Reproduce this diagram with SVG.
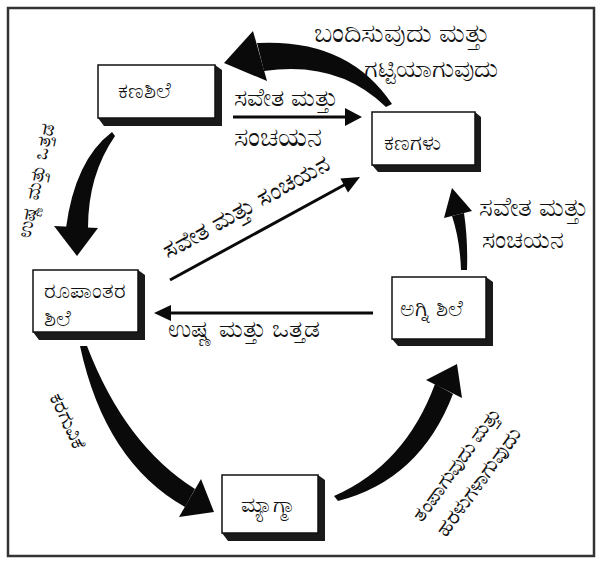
<svg xmlns="http://www.w3.org/2000/svg" width="602" height="564" viewBox="0 0 602 564">
<style>
  text { font-family: "Noto Sans", "DejaVu Sans", sans-serif; fill: #111; }
  .lbl { font-size: 25px; }
  .nd { font-size: 22px; }
  .front { fill: #fff; stroke: #111; stroke-width: 1.5; }
  .shadow { fill: #1a1a1a; }
  .thick { fill: #0a0a0a; }
  .thin { stroke: #0a0a0a; stroke-width: 3; fill: none; }
</style>
<rect x="0" y="0" width="602" height="564" fill="#fff"/>
<rect x="8" y="8" width="586" height="548" fill="none" stroke="#333" stroke-width="2.5"/>

<g id="connectors">
  <path class="thick" d="M 257,43 Q 348,38 392,104 L 386,107 Q 338,60 264,71 Z"/>
  <polygon class="thick" points="224,63 253,31 267,81"/>
  <path class="thick" d="M 112,132 Q 75,160 66,228 L 88,228 Q 88,175 115,136 Z"/>
  <polygon class="thick" points="54,226 98,228 77,256"/>
  <path class="thick" d="M 80,346 Q 105,462 185,507 L 195,489 Q 125,445 87,346 Z"/>
  <polygon class="thick" points="214,512 179,517 201,479"/>
  <path class="thick" d="M 334,496 Q 405,465 435,384 L 453,394 Q 420,480 338,501 Z"/>
  <polygon class="thick" points="457,364 462,398 426,380"/>
  <path class="thick" d="M 461,270 Q 460,240 452,216 L 464,213 Q 468,240 467,270 Z"/>
  <polygon class="thick" points="452,188 472,211 444,218"/>
  <line class="thin" x1="233" y1="117" x2="348" y2="117"/>
  <polygon class="thick" points="345,108 362,117 345,126"/>
  <line class="thin" x1="170" y1="280" x2="346" y2="184"/>
  <polygon class="thick" points="360,177 348,192.6 340.4,178.6"/>
  <line class="thin" x1="373" y1="313" x2="168" y2="313"/>
  <polygon class="thick" points="154,313 171,305 171,321"/>
</g>

<g id="node-kanashile">
  <polygon class="shadow" points="215,65 222,70 222,126 104,126 98,118"/>
  <rect class="front" x="98" y="65" width="117" height="53"/>
  <text class="nd" x="144" y="98" text-anchor="middle">ಕಣಶಿಲೆ</text>
</g>
<g id="node-kanagalu">
  <polygon class="shadow" points="475,112 481,117 481,172 378,172 372,165"/>
  <rect class="front" x="372" y="112" width="103" height="53"/>
  <text class="nd" x="384" y="150">ಕಣಗಳು</text>
</g>
<g id="node-roopantara">
  <polygon class="shadow" points="138,270 145,275 145,340 39,340 33,332"/>
  <rect class="front" x="33" y="270" width="105" height="62"/>
  <text class="nd" x="44" y="298">ರೂಪಾಂತರ</text>
  <text class="nd" x="44" y="326">ಶಿಲೆ</text>
</g>
<g id="node-agni">
  <polygon class="shadow" points="486,277 493,282 493,346 398,346 392,339"/>
  <rect class="front" x="392" y="277" width="94" height="62"/>
  <text class="nd" x="400" y="316">ಅಗ್ನಿ ಶಿಲೆ</text>
</g>
<g id="node-magma">
  <polygon class="shadow" points="318,475 325,480 325,541 228,541 222,533"/>
  <rect class="front" x="222" y="475" width="96" height="58"/>
  <text class="nd" x="268" y="512" text-anchor="middle">ಮ್ಯಾಗ್ಮಾ</text>
</g>

<g id="labels">
  <text class="lbl" x="402" y="42" text-anchor="middle" style="font-size:27px">ಬಂದಿಸುವುದು ಮತ್ತು</text>
  <text class="lbl" x="431" y="77" text-anchor="middle" style="font-size:25px">ಗಟ್ಟಿಯಾಗುವುದು</text>
  <text class="lbl" x="234" y="106">ಸವೇತ ಮತ್ತು</text>
  <text class="lbl" x="234" y="146" style="font-size:27px">ಸಂಚಯನ</text>
  <text class="lbl" x="479" y="216" style="font-size:26px">ಸವೇತ ಮತ್ತು</text>
  <text class="lbl" x="482" y="248" style="font-size:25px">ಸಂಚಯನ</text>
  <text class="lbl" x="168" y="337">ಉಷ್ಣ ಮತ್ತು ಒತ್ತಡ</text>
  <text class="lbl" x="250" y="214" text-anchor="middle" transform="rotate(-29 250 214)" style="font-size:24px">ಸವೇತ ಮತ್ತು ಸಂಚಯನ</text>
  <text class="lbl" x="42" y="182" text-anchor="middle" transform="rotate(-78 42 182)" style="font-size:19px">ಉಷ್ಣ ಮತ್ತು ಒತ್ತಡ</text>
  <text class="lbl" x="62" y="424" text-anchor="middle" transform="rotate(65 62 424)" style="font-size:20px">ಕರಗುವಿಕೆ</text>
  <text class="lbl" x="462" y="468" text-anchor="middle" transform="rotate(-54 462 468)" style="font-size:20px">ತಂಪಾಗುವುದು ಮತ್ತು</text>
  <text class="lbl" x="484" y="486" text-anchor="middle" transform="rotate(-54 484 486)" style="font-size:21px">ಹರಳುಗಳಾಗುವುದು</text>
</g>
</svg>
